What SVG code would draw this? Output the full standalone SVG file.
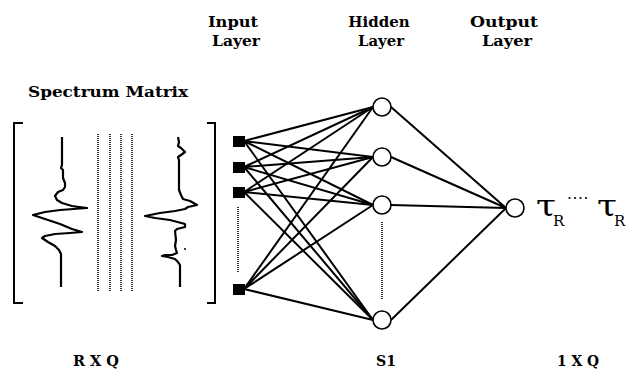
<svg xmlns="http://www.w3.org/2000/svg" width="629" height="381" viewBox="0 0 629 381">
  <style>
    .lbl { font-family: "DejaVu Serif", "Liberation Serif", serif; font-weight: bold; font-size: 15px; fill: #000; }
    .bot { font-family: "DejaVu Serif", "Liberation Serif", serif; font-weight: bold; font-size: 15px; fill: #000; }
    .sym { font-family: "DejaVu Serif", "Liberation Serif", serif; font-size: 30px; fill: #000; }
    .sub { font-family: "DejaVu Serif", "Liberation Serif", serif; font-size: 15px; fill: #000; }
    .edge { stroke: #000; stroke-width: 2; fill: none; }
    .dots { stroke: #000; stroke-width: 1.6; stroke-dasharray: 1 1; fill: none; }
    .trace { stroke: #000; stroke-width: 2.2; fill: none; stroke-linejoin: round; }
    .bracket { stroke: #000; stroke-width: 2; fill: none; }
    .unit { fill: #000; }
    .neuron { fill: #fff; stroke: #000; stroke-width: 1.6; }
  </style>

  <!-- column headings -->
  <g id="headings">
    <text class="lbl" x="233" y="27" text-anchor="middle" textLength="50" lengthAdjust="spacingAndGlyphs">Input</text>
    <text class="lbl" x="236" y="46" text-anchor="middle" textLength="48" lengthAdjust="spacingAndGlyphs">Layer</text>
    <text class="lbl" x="379" y="27" text-anchor="middle" font-size="13.5">Hidden</text>
    <text class="lbl" x="381" y="46" text-anchor="middle" textLength="46" lengthAdjust="spacingAndGlyphs">Layer</text>
    <text class="lbl" x="504" y="27" text-anchor="middle" textLength="68" lengthAdjust="spacingAndGlyphs">Output</text>
    <text class="lbl" x="507" y="46" text-anchor="middle" textLength="50" lengthAdjust="spacingAndGlyphs">Layer</text>
    <text class="lbl" x="108" y="97" text-anchor="middle" textLength="160" lengthAdjust="spacingAndGlyphs">Spectrum Matrix</text>
  </g>

  <!-- spectrum matrix -->
  <g id="spectrum-matrix">
    <path class="bracket" d="M23,123 H14 V303 H23"/>
    <path class="bracket" d="M207,123 H215 V303 H207"/>
    <!-- first spectrum -->
    <path class="trace" d="M62,137 V165 L61,168 L63,170 V178 L65,183 V187 L63,190 L58,192 L55,196 L57,200 L62,203 L72,206 L87,208 L60,210 L45,212 L33,215 L45,219 L60,224 L72,229 L82,232 L70,233 L55,234 L45,236 L42,238 L48,242 L55,246 L59,250 L61,254 V260 L61,262 V287"/>
    <!-- dotted columns between spectra -->
    <path class="dots" d="M98,134 V292 M110,134 V292 M121,134 V292 M132,134 V292"/>
    <!-- last spectrum -->
    <path class="trace" d="M178,137 L179,142 L178,146 L181,148 L185,152 L181,155 L178,157 L179,160 V190 L181,195 L183,199 L190,201 L197,205 L188,207 L185,209 L175,211 L160,213 L145,216 L155,218 L170,220 L185,224 L185,227 L177,229 L175,231 L176,240 L175,246 L176,250 L177,253 L172,255 L165,255 L162,256 L168,257 L175,259 L178,262 L180,265 V287"/>
    <circle cx="185" cy="249" r="1" fill="#000"/>
  </g>

  <!-- connectors -->
  <g id="connectors">
    <!-- input to hidden -->
    <path class="edge" d="M244,141 L373,107 M244,141 L373,157 M244,141 L373,205 M244,141 L373,320"/>
    <path class="edge" d="M244,167 L373,107 M244,167 L373,157 M244,167 L373,205 M244,167 L373,320"/>
    <path class="edge" d="M244,192 L373,107 M244,192 L373,157 M244,192 L373,205 M244,192 L373,320"/>
    <path class="edge" d="M244,289 L373,107 M244,289 L373,157 M244,289 L373,205 M244,289 L373,320"/>
    <!-- hidden to output -->
    <path class="edge" d="M391,107 L506,208 M391,157 L506,208 M391,205 L506,208 M391,320 L506,208"/>
    <!-- elided units -->
    <path class="dots" d="M238,207 V273"/>
    <path class="dots" d="M382,222 V300"/>
  </g>

  <!-- input layer units -->
  <g id="input-1"><rect class="unit" x="233" y="136" width="12" height="11"/></g>
  <g id="input-2"><rect class="unit" x="233" y="162" width="12" height="11"/></g>
  <g id="input-3"><rect class="unit" x="233" y="187" width="12" height="11"/></g>
  <g id="input-r"><rect class="unit" x="233" y="284" width="12" height="11"/></g>

  <!-- hidden layer units -->
  <g id="hidden-1"><circle class="neuron" cx="382" cy="107" r="9"/></g>
  <g id="hidden-2"><circle class="neuron" cx="382" cy="157" r="9"/></g>
  <g id="hidden-3"><circle class="neuron" cx="382" cy="205" r="9"/></g>
  <g id="hidden-s1"><circle class="neuron" cx="382" cy="320" r="9"/></g>

  <!-- output unit -->
  <g id="output">
    <circle class="neuron" cx="515" cy="208" r="9"/>
    <text class="sym" x="536" y="216" textLength="20" lengthAdjust="spacingAndGlyphs">τ</text>
    <text class="sub" x="553" y="226">R</text>
    <g fill="#000">
      <circle cx="569.5" cy="198" r="1.1"/>
      <circle cx="575" cy="198" r="1.1"/>
      <circle cx="580.5" cy="198" r="1.1"/>
      <circle cx="586" cy="198" r="1.1"/>
    </g>
    <text class="sym" x="597" y="216" textLength="20" lengthAdjust="spacingAndGlyphs">τ</text>
    <text class="sub" x="614" y="226">R</text>
  </g>

  <!-- dimension labels -->
  <g id="dimensions">
    <text class="bot" x="96" y="366" text-anchor="middle" textLength="46" lengthAdjust="spacingAndGlyphs">R X Q</text>
    <text class="bot" x="386" y="366" text-anchor="middle" textLength="20" lengthAdjust="spacingAndGlyphs">S1</text>
    <text class="bot" x="578" y="366" text-anchor="middle" textLength="42" lengthAdjust="spacingAndGlyphs">1 X Q</text>
  </g>
</svg>
